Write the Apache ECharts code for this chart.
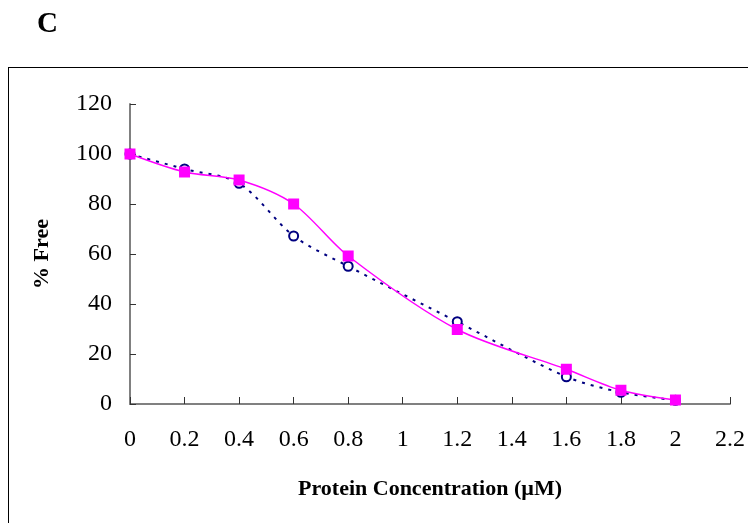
<!DOCTYPE html>
<html>
<head>
<meta charset="utf-8">
<script src="https://cdn.jsdelivr.net/npm/echarts@6/dist/echarts.min.js"></script>
<style>html,body{margin:0;padding:0;background:#fff;}#c{width:748px;height:523px;}</style>
</head>
<body>
<div id="c"></div>
<script>
var concentrations = [0, 0.2, 0.4, 0.6, 0.8, 1.2, 1.6, 1.8, 2];
var freeOpen = [100, 94, 88.3, 67.2, 55.1, 32.9, 10.9, 4.7, 1.5];
var freeSquare = [100, 92.8, 89.6, 80, 59.2, 29.8, 13.9, 5.5, 1.6];
var xTicks = { min: 0, max: 2.2, step: 0.2 };
var yTicks = { min: 0, max: 120, step: 20 };

function pairs(xs, ys) { return xs.map(function (x, i) { return [x, ys[i]]; }); }

var font = 'Liberation Serif';
var chart = echarts.init(document.getElementById('c'), null, { renderer: 'canvas' });
chart.setOption({
  backgroundColor: '#ffffff',
  animation: false,
  graphic: [
    { type: 'text', left: 37, top: 10, style: { text: 'C', font: 'bold 29px "Liberation Serif"', fill: '#000' } },
    { type: 'line', shape: { x1: 8, y1: 67.5, x2: 748, y2: 67.5 }, style: { stroke: '#000', lineWidth: 1 } },
    { type: 'line', shape: { x1: 8.5, y1: 67, x2: 8.5, y2: 523 }, style: { stroke: '#000', lineWidth: 1 } }
  ],
  grid: { left: 130, right: 18, top: 104, bottom: 119, containLabel: false },
  xAxis: {
    type: 'value', min: xTicks.min, max: xTicks.max, interval: xTicks.step,
    name: 'Protein Concentration (µM)', nameLocation: 'middle', nameGap: 74,
    nameTextStyle: { fontFamily: font, fontWeight: 'bold', fontSize: 22, color: '#000' },
    axisLine: { show: true, lineStyle: { color: '#808080', width: 2 } },
    axisTick: { show: true, inside: true, length: 7, lineStyle: { color: '#333', width: 1 } },
    axisLabel: { fontFamily: font, fontSize: 24, color: '#000', margin: 24 },
    splitLine: { show: false }
  },
  yAxis: {
    type: 'value', min: yTicks.min, max: yTicks.max, interval: yTicks.step,
    name: '% Free', nameLocation: 'middle', nameGap: 77, nameRotate: 90,
    nameTextStyle: { fontFamily: font, fontWeight: 'bold', fontSize: 22, color: '#000' },
    axisLine: { show: true, lineStyle: { color: '#808080', width: 2 } },
    axisTick: { show: true, inside: true, length: 6, lineStyle: { color: '#333', width: 1 } },
    axisLabel: { fontFamily: font, fontSize: 24, color: '#000', margin: 18 },
    splitLine: { show: false }
  },
  series: [
    {
      type: 'line', data: pairs(concentrations, freeOpen), smooth: 0.3,
      symbol: 'circle', symbolSize: 9,
      lineStyle: { color: '#000080', width: 2, type: [3, 6] },
      itemStyle: { color: '#ffffff', borderColor: '#000080', borderWidth: 2 },
      z: 2
    },
    {
      type: 'line', data: pairs(concentrations, freeSquare), smooth: 0.3,
      symbol: 'rect', symbolSize: 11,
      lineStyle: { color: '#ff00ff', width: 1.5 },
      itemStyle: { color: '#ff00ff', borderWidth: 0 },
      z: 3
    }
  ]
});
</script>
</body>
</html>
